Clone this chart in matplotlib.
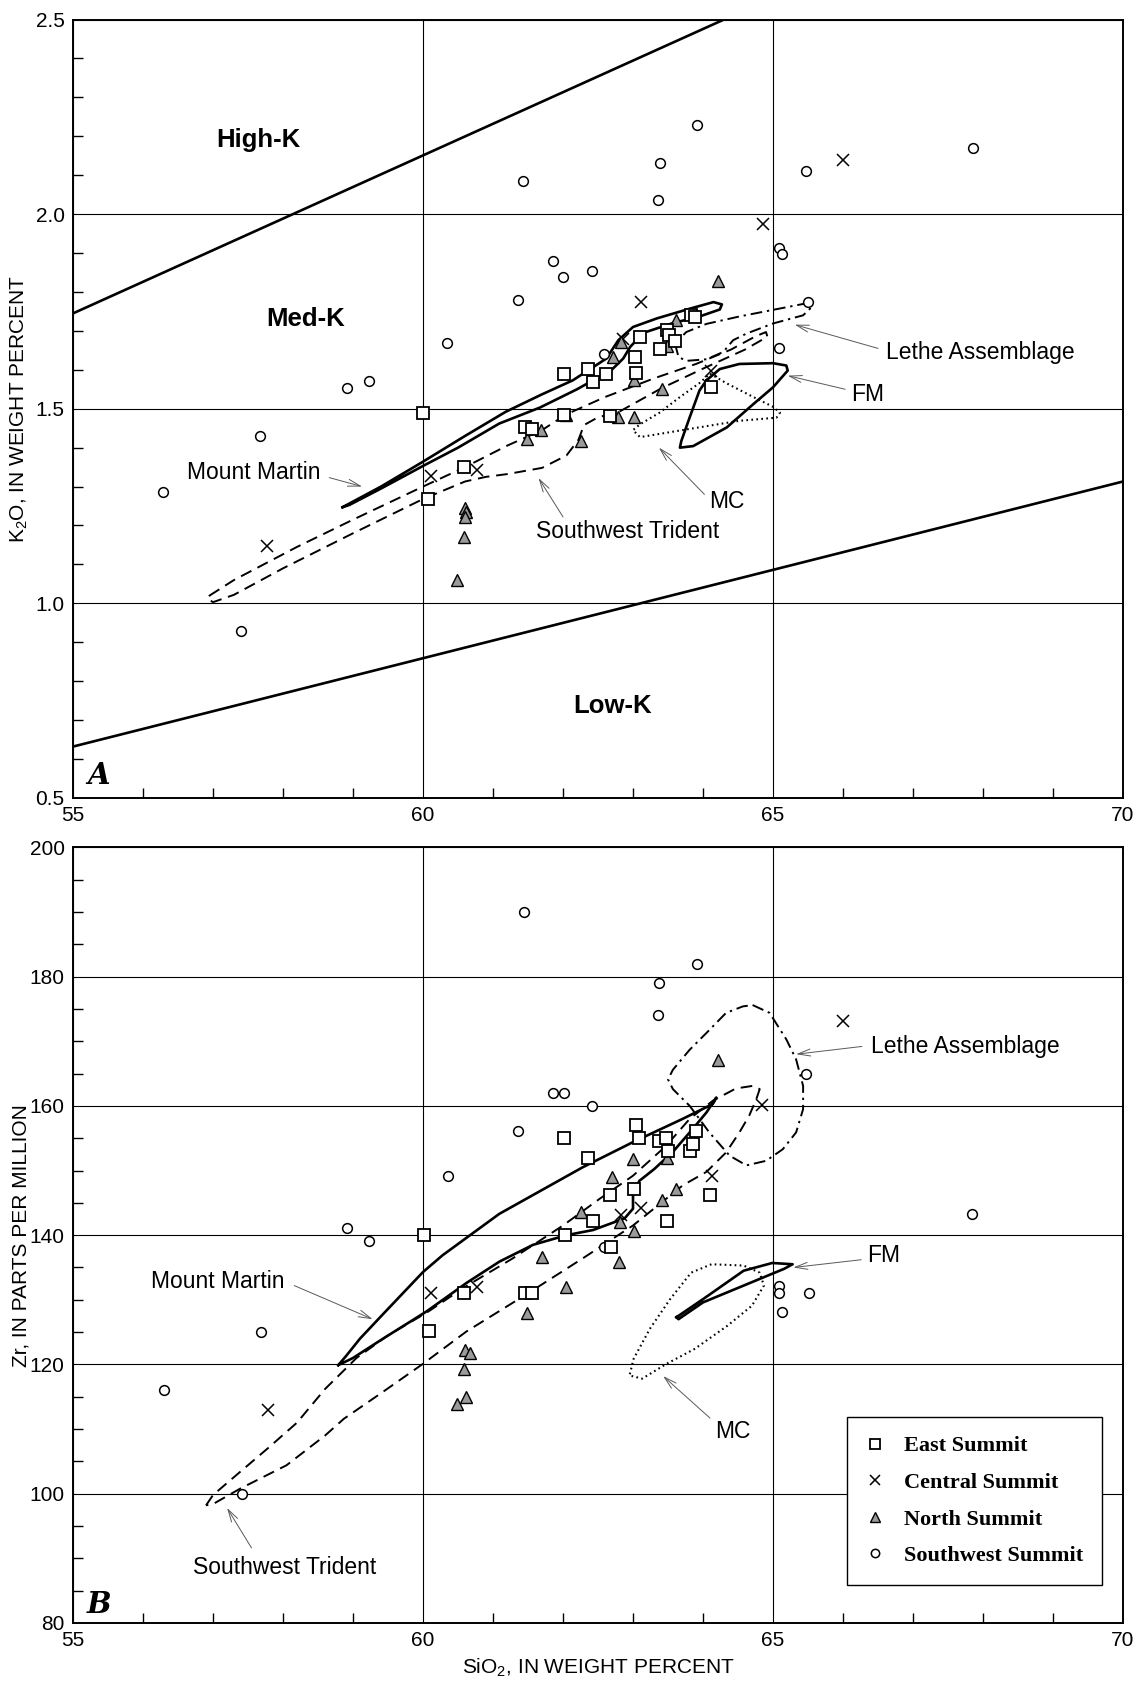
import matplotlib
matplotlib.use('Agg')
import matplotlib.pyplot as plt
from matplotlib.lines import Line2D
from matplotlib.ticker import MultipleLocator, FormatStrFormatter

plt.rcParams['font.family'] = ['Liberation Sans Narrow', 'Liberation Sans', 'DejaVu Sans']
LABEL_FONT = ['Liberation Sans', 'DejaVu Sans']

# ---------------- panel A : K2O vs SiO2 ----------------
east_a = [(60.0, 1.49), (60.07, 1.268), (60.58, 1.349), (61.46, 1.453), (61.56, 1.449),
          (62.02, 1.588), (62.35, 1.602), (62.43, 1.569), (62.62, 1.588), (63.1, 1.684),
          (63.03, 1.632), (63.04, 1.591), (63.38, 1.654), (63.48, 1.701), (63.51, 1.689),
          (63.6, 1.674), (63.83, 1.741), (63.89, 1.735), (64.12, 1.556), (62.67, 1.482),
          (62.02, 1.483)]
central_a = [(57.77, 1.148), (60.11, 1.328), (60.77, 1.343), (62.85, 1.68), (63.12, 1.773),
             (64.12, 1.596), (64.85, 1.975), (66.0, 2.139)]
north_a = [(60.6, 1.246), (60.61, 1.235), (60.6, 1.222), (60.58, 1.171), (60.49, 1.06),
           (61.69, 1.446), (61.49, 1.422), (62.04, 1.485), (62.25, 1.416), (62.71, 1.634),
           (62.83, 1.671), (63.01, 1.574), (63.48, 1.66), (63.61, 1.728), (64.22, 1.829),
           (63.41, 1.55), (62.79, 1.48), (63.01, 1.48)]
southwest_a = [(56.29, 1.286), (57.40, 0.929), (57.67, 1.43), (58.92, 1.554), (59.23, 1.571),
               (60.34, 1.67), (61.36, 1.78), (61.43, 2.085), (61.86, 1.88), (62.0, 1.838),
               (62.41, 1.853), (62.59, 1.641), (63.36, 2.035), (63.38, 2.132), (63.91, 2.229),
               (65.08, 1.912), (65.13, 1.898), (65.47, 2.11), (65.5, 1.773), (65.09, 1.656),
               (67.86, 2.17)]

# field boundaries (Gill-type divisions)
highk_sio2 = [55.0, 64.3]
highk_k2o = [1.745, 2.5]
lowk_sio2 = [55.0, 70.0]
lowk_k2o = [0.632, 1.313]

mount_martin_a = [(58.85, 1.247), (59.4, 1.30), (60.0, 1.364), (60.6, 1.43), (61.18, 1.492),
                  (61.7, 1.537), (62.14, 1.573), (62.62, 1.629), (62.79, 1.676), (63.0, 1.71),
                  (63.34, 1.732), (63.81, 1.757), (64.15, 1.774), (64.27, 1.768), (64.24, 1.755),
                  (63.95, 1.737), (63.57, 1.72), (63.15, 1.695), (62.96, 1.659), (62.86, 1.629),
                  (62.69, 1.599), (62.2, 1.55), (61.67, 1.503), (61.09, 1.462), (60.5, 1.40),
                  (60.0, 1.353), (59.4, 1.295), (58.95, 1.253), (58.85, 1.247)]
sw_trident_a = [(56.95, 1.02), (57.3, 1.06), (58.2, 1.145), (59.0, 1.215), (60.0, 1.30),
                (60.6, 1.35), (61.2, 1.405), (61.7, 1.445), (62.04, 1.485), (62.6, 1.53),
                (63.3, 1.578), (63.9, 1.615), (64.4, 1.652), (64.75, 1.686), (64.9, 1.697),
                (64.92, 1.685), (64.6, 1.652), (64.0, 1.603), (63.4, 1.552), (63.0, 1.512),
                (62.8, 1.492), (62.5, 1.478), (62.3, 1.458), (62.22, 1.42), (62.05, 1.38),
                (61.7, 1.348), (61.2, 1.332), (60.9, 1.325), (60.6, 1.313), (60.0, 1.268),
                (59.0, 1.18), (58.0, 1.09), (57.3, 1.022), (57.0, 1.003), (56.92, 1.012),
                (56.95, 1.02)]
lethe_a = [(65.51, 1.772), (65.0, 1.754), (64.52, 1.737), (64.05, 1.718), (63.76, 1.697),
           (63.6, 1.667), (63.65, 1.633), (63.76, 1.623), (64.05, 1.627), (64.29, 1.646),
           (64.43, 1.676), (64.62, 1.693), (65.0, 1.719), (65.43, 1.74), (65.53, 1.757),
           (65.51, 1.772)]
mc_a = [(64.1, 1.59), (64.34, 1.565), (64.72, 1.53), (65.0, 1.505), (65.1, 1.49),
        (65.05, 1.477), (64.52, 1.469), (63.67, 1.444), (63.1, 1.427), (63.0, 1.445),
        (63.1, 1.46), (63.38, 1.49), (63.67, 1.53), (63.95, 1.566), (64.1, 1.59)]
fm_a = [(64.05, 1.573), (64.24, 1.602), (64.52, 1.615), (65.0, 1.617), (65.19, 1.611),
        (65.21, 1.598), (65.0, 1.555), (64.72, 1.512), (64.34, 1.452), (63.86, 1.404),
        (63.67, 1.40), (63.69, 1.417), (63.81, 1.478), (63.95, 1.547), (64.05, 1.573)]

# ---------------- panel B : Zr vs SiO2 ----------------
east_b = [(60.02, 140.1), (60.08, 125.2), (60.59, 131.0), (61.45, 131.0), (61.56, 131.0),
          (62.02, 155.1), (62.35, 151.9), (62.43, 142.2), (62.03, 140.1), (62.67, 146.2),
          (62.69, 138.2), (63.04, 157.1), (63.09, 155.1), (63.02, 147.2), (63.37, 154.5),
          (63.47, 155.1), (63.5, 153.1), (63.48, 142.2), (63.81, 153.1), (63.85, 154.1),
          (63.9, 156.1), (64.1, 146.2)]
central_b = [(57.78, 113.0), (60.12, 131.1), (60.77, 132.0), (62.83, 143.1), (63.12, 144.2),
             (64.13, 149.1), (64.84, 160.1), (66.0, 173.1)]
north_b = [(60.6, 122.2), (60.67, 121.7), (60.59, 119.3), (60.62, 115.0), (60.49, 113.9),
           (61.49, 127.9), (61.7, 136.6), (62.04, 132.0), (62.26, 143.6), (62.7, 149.0),
           (62.82, 142.1), (62.8, 135.8), (63.0, 151.8), (63.01, 140.7), (63.41, 145.4),
           (63.49, 152.0), (63.61, 147.1), (64.22, 167.1)]
southwest_b = [(56.3, 116.0), (57.41, 100.0), (57.68, 125.0), (58.92, 141.1), (59.23, 139.1),
               (60.35, 149.1), (61.36, 156.05), (61.44, 190.0), (61.86, 162.05), (62.01, 162.05),
               (62.42, 160.0), (62.58, 138.2), (63.35, 174.0), (63.37, 179.0), (63.91, 182.0),
               (65.08, 132.1), (65.09, 131.0), (65.13, 128.1), (65.47, 165.0), (65.51, 131.0),
               (67.85, 143.2)]

mount_martin_b = [(58.79, 119.9), (58.9, 121.3), (59.1, 124.0), (59.43, 127.8), (60.0, 134.3),
                  (60.28, 136.9), (61.09, 143.3), (62.28, 150.5), (63.0, 154.4), (63.71, 158.0),
                  (64.14, 160.3), (64.19, 161.3), (64.05, 159.0), (63.85, 156.4), (63.57, 152.9),
                  (63.3, 150.2), (63.09, 148.4), (63.0, 146.2), (63.0, 144.1), (62.88, 142.6),
                  (62.43, 140.8), (62.05, 140.0), (61.57, 138.5), (61.09, 135.9), (60.62, 132.6),
                  (60.05, 128.2), (59.43, 124.0), (59.0, 121.0), (58.79, 119.9)]
sw_trident_b = [(56.9, 98.2), (57.0, 99.8), (57.4, 103.5), (57.78, 107.0), (58.2, 111.0),
                (58.6, 116.2), (59.05, 121.0), (59.5, 124.5), (60.05, 128.0), (60.6, 132.0),
                (61.28, 136.4), (62.0, 141.5), (62.52, 145.6), (63.0, 149.2), (63.47, 153.8),
                (63.81, 158.0), (64.14, 160.8), (64.47, 162.7), (64.71, 163.1), (64.81, 162.6),
                (64.76, 161.0), (64.66, 158.5), (64.52, 155.9), (64.33, 152.8), (64.05, 149.8),
                (63.71, 147.7), (63.0, 141.5), (62.28, 136.4), (61.47, 130.8), (60.62, 125.1),
                (60.0, 120.1), (59.42, 115.7), (58.87, 111.6), (58.6, 109.0), (58.05, 104.4),
                (57.39, 100.8), (57.0, 98.4), (56.9, 98.2)]
lethe_b = [(64.71, 175.6), (64.95, 174.4), (65.19, 170.3), (65.33, 167.2), (65.43, 163.1),
           (65.43, 159.5), (65.33, 155.9), (65.14, 153.3), (64.9, 151.5), (64.62, 150.8),
           (64.38, 152.3), (64.09, 155.9), (63.81, 160.0), (63.57, 162.6), (63.5, 164.1),
           (63.57, 165.6), (63.81, 168.7), (64.05, 171.3), (64.33, 174.4), (64.57, 175.4),
           (64.71, 175.6)]
mc_b = [(64.12, 135.5), (63.83, 134.2), (63.53, 130.1), (63.24, 125.5), (63.01, 120.9),
        (62.95, 118.3), (63.13, 117.8), (63.48, 120.1), (63.88, 122.4), (64.35, 126.0),
        (64.7, 129.1), (64.87, 132.2), (64.81, 134.2), (64.58, 135.3), (64.12, 135.5)]
fm_b = [(63.62, 127.3), (64.0, 130.1), (64.58, 134.5), (64.99, 135.7), (65.28, 135.5),
        (65.16, 134.8), (64.58, 132.2), (64.0, 129.6), (63.65, 127.0), (63.62, 127.3)]

group_names = ['East Summit', 'Central Summit', 'North Summit', 'Southwest Summit']

# label, text position, arrow start, arrow tip, horizontal alignment
notes_a = [('Lethe Assemblage', (66.62, 1.644), (66.5, 1.655), (65.31, 1.716), 'left'),
           ('FM', (66.12, 1.537), (66.03, 1.55), (65.21, 1.585), 'left'),
           ('MC', (64.34, 1.262), (64.02, 1.28), (63.37, 1.40), 'center'),
           ('Southwest Trident', (62.92, 1.184), (62.0, 1.222), (61.65, 1.322), 'center'),
           ('Mount Martin', (57.58, 1.336), (58.66, 1.323), (59.13, 1.30), 'center')]
notes_b = [('Lethe Assemblage', (66.4, 169.2), (66.27, 169.2), (65.33, 168.0), 'left'),
           ('FM', (66.35, 136.8), (66.26, 136.2), (65.29, 135.0), 'left'),
           ('MC', (64.42, 109.7), (64.1, 111.7), (63.43, 118.2), 'center'),
           ('Mount Martin', (57.07, 132.9), (58.16, 132.2), (59.28, 127.0), 'center'),
           ('Southwest Trident', (58.02, 88.6), (57.55, 91.6), (57.2, 97.8), 'center')]


def xy(pts):
    return [p[0] for p in pts], [p[1] for p in pts]


def outline(ax, pts, style):
    x, y = xy(pts)
    if style == 'solid':
        ax.plot(x, y, color='black', lw=1.9, solid_joinstyle='round', zorder=3)
    elif style == 'dashed':
        ax.plot(x, y, color='black', lw=1.4, dashes=(6, 3.5), zorder=3)
    elif style == 'dashdot':
        ax.plot(x, y, color='black', lw=1.4, dashes=(6, 2.5, 1.2, 2.5), zorder=3)
    else:
        ax.plot(x, y, color='black', lw=1.5, dashes=(0.8, 1.6), zorder=3)


def samples(ax, east, central, north, southwest):
    x, y = xy(central)
    ax.plot(x, y, 'x', color='black', ms=8.5, mew=1.1, zorder=5)
    x, y = xy(north)
    ax.plot(x, y, '^', mfc='#9a9a9a', mec='black', ms=8, mew=1.0, zorder=5)
    x, y = xy(southwest)
    ax.plot(x, y, 'o', mfc='white', mec='black', ms=7, mew=1.1, zorder=5)
    x, y = xy(east)
    ax.plot(x, y, 's', mfc='white', mec='black', ms=8, mew=1.3, zorder=6)


def notes(ax, items):
    for label, txt, start, tip, ha in items:
        ax.text(txt[0], txt[1], label, ha=ha, va='center', fontsize=16.5,
                family=LABEL_FONT, zorder=7)
        ax.annotate('', xy=tip, xytext=start,
                    arrowprops=dict(arrowstyle='->,head_length=0.9,head_width=0.25',
                                    color='0.35', lw=0.7, shrinkA=0, shrinkB=0),
                    zorder=7)


def frame(ax, ymin, ymax, ymajor, yminor):
    ax.set_xlim(55, 70)
    ax.set_ylim(ymin, ymax)
    ax.xaxis.set_major_locator(MultipleLocator(5))
    ax.xaxis.set_minor_locator(MultipleLocator(1))
    ax.yaxis.set_major_locator(MultipleLocator(ymajor))
    ax.yaxis.set_minor_locator(MultipleLocator(yminor))
    ax.grid(True, which='major', color='black', lw=0.8, zorder=1)
    ax.tick_params(which='both', direction='in', top=False, right=False,
                   labelsize=15, width=1.0)
    ax.tick_params(which='major', length=0, pad=6)
    ax.tick_params(which='minor', length=7)
    for s in ax.spines.values():
        s.set_linewidth(1.4)
    ax.set_axisbelow(True)


fig = plt.figure(figsize=(11.38, 16.82), dpi=100)
ax1 = fig.add_axes([0.0642, 0.5256, 0.9226, 0.4628])
ax2 = fig.add_axes([0.0642, 0.0351, 0.9226, 0.4611])

# ---- A ----
frame(ax1, 0.5, 2.5, 0.5, 0.1)
ax1.yaxis.set_major_formatter(FormatStrFormatter('%.1f'))
ax1.plot(highk_sio2, highk_k2o, color='black', lw=1.9, zorder=3)
ax1.plot(lowk_sio2, lowk_k2o, color='black', lw=1.9, zorder=3)
outline(ax1, mount_martin_a, 'solid')
outline(ax1, fm_a, 'solid')
outline(ax1, sw_trident_a, 'dashed')
outline(ax1, lethe_a, 'dashdot')
outline(ax1, mc_a, 'dotted')
samples(ax1, east_a, central_a, north_a, southwest_a)
notes(ax1, notes_a)
ax1.text(57.65, 2.19, 'High-K', ha='center', va='center', fontsize=18.5,
         fontweight='bold', family=LABEL_FONT)
ax1.text(58.32, 1.73, 'Med-K', ha='center', va='center', fontsize=18.5,
         fontweight='bold', family=LABEL_FONT)
ax1.text(62.71, 0.737, 'Low-K', ha='center', va='center', fontsize=18.5,
         fontweight='bold', family=LABEL_FONT)
ax1.text(55.2, 0.558, 'A', ha='left', va='center', fontsize=21,
         fontweight='bold', fontstyle='italic', family=['DejaVu Serif'])
ax1.set_ylabel(r'$\mathregular{K_2O}$, IN WEIGHT PERCENT', fontsize=15, family=LABEL_FONT)
ax1.yaxis.set_label_coords(-0.041, 0.5)

# ---- B ----
frame(ax2, 80, 200, 20, 5)
outline(ax2, mount_martin_b, 'solid')
outline(ax2, fm_b, 'solid')
outline(ax2, sw_trident_b, 'dashed')
outline(ax2, lethe_b, 'dashdot')
outline(ax2, mc_b, 'dotted')
samples(ax2, east_b, central_b, north_b, southwest_b)
notes(ax2, notes_b)
ax2.text(55.2, 82.8, 'B', ha='left', va='center', fontsize=21,
         fontweight='bold', fontstyle='italic', family=['DejaVu Serif'])
ax2.set_ylabel('Zr, IN PARTS PER MILLION', fontsize=15, family=LABEL_FONT)
ax2.yaxis.set_label_coords(-0.041, 0.5)
ax2.set_xlabel(r'$\mathregular{SiO_2}$, IN WEIGHT PERCENT', fontsize=15, family=LABEL_FONT)
ax2.xaxis.set_label_coords(0.5, -0.044)

handles = [Line2D([], [], ls='', marker='s', mfc='white', mec='black', ms=7, mew=1.3),
           Line2D([], [], ls='', marker='x', color='black', ms=7, mew=1.1),
           Line2D([], [], ls='', marker='^', mfc='#9a9a9a', mec='black', ms=7, mew=1.0),
           Line2D([], [], ls='', marker='o', mfc='white', mec='black', ms=6, mew=1.1)]
leg = ax2.legend(handles, group_names, loc='lower left', bbox_to_anchor=(0.737, 0.049),
                 borderaxespad=0, frameon=True, fancybox=False, framealpha=1,
                 edgecolor='black', handlelength=0.8, handletextpad=0.9,
                 labelspacing=0.72, borderpad=0.85,
                 prop=dict(family=['Liberation Serif', 'DejaVu Serif'], weight='bold', size=16))
leg.get_frame().set_linewidth(1.0)
leg.set_zorder(8)

fig.savefig('out.png', dpi=100)
